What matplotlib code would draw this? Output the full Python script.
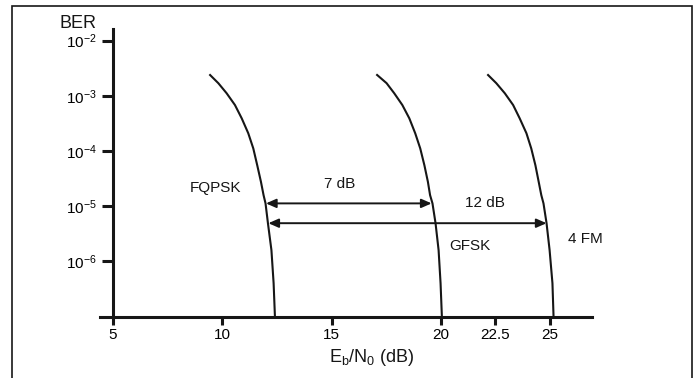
import matplotlib
matplotlib.use("Agg")
import matplotlib.pyplot as plt
from matplotlib.patches import Rectangle
from matplotlib.ticker import NullLocator

plt.rcParams['font.family'] = ['Liberation Sans', 'DejaVu Sans']
plt.rcParams['mathtext.default'] = 'regular'

# BER points shared by the three curves
ber = [2.45e-3, 1.69e-3, 1.11e-3, 6.8e-4, 3.9e-4, 2.09e-4, 1.11e-4, 5.5e-5,
       2.76e-5, 1.58e-5, 1.12e-5, 4.9e-6, 1.59e-6, 4.0e-7, 1.0e-7]

# Eb/N0 (dB) for each modulation at those BER points
ebn0_fqpsk = [9.41, 9.82, 10.20, 10.58, 10.89, 11.19, 11.42, 11.60,
              11.77, 11.89, 11.98, 12.09, 12.25, 12.35, 12.41]
ebn0_gfsk = [17.05, 17.52, 17.87, 18.24, 18.56, 18.83, 19.06, 19.25,
             19.41, 19.51, 19.62, 19.76, 19.90, 19.99, 20.05]
ebn0_4fm = [22.13, 22.54, 22.93, 23.31, 23.61, 23.92, 24.14, 24.33,
            24.48, 24.60, 24.70, 24.84, 24.98, 25.11, 25.16]

xticks = [5, 10, 15, 20, 22.5, 25]
xticklabels = ['5', '10', '15', '20', '22.5', '25']
yticks = [1e-2, 1e-3, 1e-4, 1e-5, 1e-6]
yticklabels = [r'$10^{-2}$', r'$10^{-3}$', r'$10^{-4}$', r'$10^{-5}$', r'$10^{-6}$']

# gap arrows: (x_start, x_end, ber)
gap_7db = (12.0, 19.58, 1.12e-5)
gap_12db = (12.11, 24.84, 4.9e-6)

W, H = 697, 378
fig = plt.figure(figsize=(W / 100, H / 100), dpi=100)
ax = fig.add_axes([100 / W, (H - 317) / H, 492 / W, 288 / H])

ink = '#161616'
for xs in (ebn0_fqpsk, ebn0_gfsk, ebn0_4fm):
    ax.semilogy(xs, ber, color=ink, lw=1.5, solid_capstyle='butt',
                solid_joinstyle='round')

ax.set_xlim(4.405, 26.92)
ax.set_ylim(10 ** -7.01, 10 ** -1.79)

for side in ('top', 'right'):
    ax.spines[side].set_visible(False)
ax.spines['left'].set_position(('data', 5))
for side in ('left', 'bottom'):
    ax.spines[side].set_linewidth(2.2)
    ax.spines[side].set_color(ink)

ax.set_xticks(xticks)
ax.set_xticklabels(xticklabels, fontsize=11)
ax.set_yticks(yticks)
ax.set_yticklabels(yticklabels, fontsize=11)
ax.yaxis.set_minor_locator(NullLocator())
ax.tick_params(axis='y', direction='out', length=8, width=2.2, pad=3.5, color=ink)
ax.tick_params(axis='x', direction='out', length=6, width=2.2, pad=2, color=ink)

arrow = dict(arrowstyle='<|-|>,head_length=0.5,head_width=0.22', color=ink,
             lw=1.4, shrinkA=0, shrinkB=0, mutation_scale=12)
for x0, x1, y in (gap_7db, gap_12db):
    ax.annotate('', xy=(x1, y), xytext=(x0, y), arrowprops=arrow)

txt = dict(fontsize=11, ha='center', va='center', color=ink)
ax.text(9.71, 10 ** -4.67, 'FQPSK', **txt)
ax.text(15.39, 10 ** -4.60, '7 dB', **txt)
ax.text(22.03, 10 ** -4.95, '12 dB', **txt)
ax.text(21.32, 10 ** -5.73, 'GFSK', **txt)
ax.text(26.62, 10 ** -5.60, '4 FM', clip_on=False, **txt)

fig.text(78 / W, 1 - 23 / H, 'BER', fontsize=13, ha='center', va='center', color=ink)
fig.text(372 / W, 1 - 357 / H, r'E$_b$/N$_0$ (dB)', fontsize=13, ha='center',
         va='center', color=ink)

# outer frame, bottom edge runs off the image
fig.add_artist(Rectangle((12 / W, -0.05), 680 / W, 1.05 - 6 / H, transform=fig.transFigure,
                         fill=False, lw=1.2, edgecolor=ink))

fig.savefig('out.png', dpi=100)
